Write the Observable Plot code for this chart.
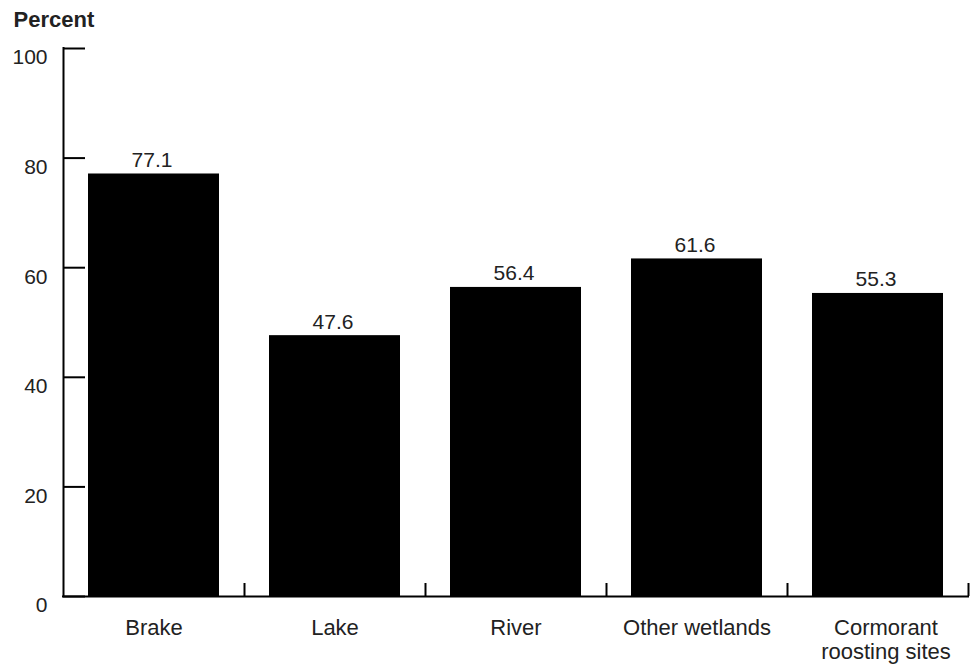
<!DOCTYPE html>
<html>
<head>
<meta charset="utf-8">
<script src="https://cdn.jsdelivr.net/npm/d3@7"></script>
<script src="https://cdn.jsdelivr.net/npm/@observablehq/plot@0.6"></script>
<style>
  html, body { margin: 0; padding: 0; background: #fff; }
  svg { font-family: "Liberation Sans", Arial, sans-serif; }
</style>
</head>
<body>
<div id="chart"></div>
<script>
const categories = ["Brake", "Lake", "River", "Other wetlands", "Cormorant\nroosting sites"];
const values = [77.1, 47.6, 56.4, 61.6, 55.3];
const yTicks = [0, 20, 40, 60, 80, 100];
const yTitle = "Percent";

const data = categories.map((c, i) => ({category: c, value: values[i]}));

const W = 975, H = 669;
const mL = 63, mR = 7, mT = 48, mB = 73;
const frameW = W - mL - mR, frameH = H - mT - mB;
const halfStep = frameW / categories.length / 2;
const ink = "#222";

const chart = Plot.plot({
  width: W,
  height: H,
  marginLeft: mL,
  marginRight: mR,
  marginTop: mT,
  marginBottom: mB,
  style: {fontFamily: "'Liberation Sans', Arial, sans-serif", background: "#fff"},
  x: {domain: categories, padding: 0, axis: null},
  y: {domain: [0, 100], axis: null},
  marks: [
    Plot.barY(data, {x: "category", y: "value", fill: "#000", insetLeft: 25, insetRight: 25}),
    Plot.text(data, {x: "category", y: "value", text: d => d.value.toFixed(1), lineAnchor: "bottom", dy: -7, dx: -2, fontSize: 21, fill: ink}),
    // y axis line
    Plot.ruleX([categories[0]], {dx: -halfStep, y1: 0, y2: 100, stroke: "#000", strokeWidth: 2, strokeLinecap: "square"}),
    // x axis line
    Plot.ruleY([0], {stroke: "#000", strokeWidth: 2, strokeLinecap: "square"}),
    // y ticks (inward)
    Plot.ruleY(yTicks, {y: d => d, insetRight: frameW - 22, stroke: "#000", strokeWidth: 2}),
    // x ticks at band boundaries (inward)
    Plot.ruleX(categories, {x: d => d, dx: halfStep, insetTop: frameH - 13, stroke: "#000", strokeWidth: 2}),
    // y tick labels
    Plot.text(yTicks, {y: d => d, text: d => String(d), frameAnchor: "left", textAnchor: "end", lineAnchor: "top", dx: -16, dy: 1, fontSize: 21, fill: ink}),
    // x category labels
    Plot.text(categories.slice(0, 4), {x: d => d, text: d => d, frameAnchor: "bottom", lineAnchor: "top", dy: 21, fontSize: 22, lineHeight: 1.1, fill: ink}),
    Plot.text(categories.slice(4), {x: d => d, text: d => d, frameAnchor: "bottom", lineAnchor: "top", dy: 21, dx: 8, fontSize: 22, lineHeight: 1.1, fill: ink}),
    // title
    Plot.text([yTitle], {text: d => d, frameAnchor: "top-left", textAnchor: "start", lineAnchor: "bottom", dx: -50, dy: -22, fontSize: 22, fontWeight: "bold", fill: ink})
  ]
});
document.getElementById("chart").appendChild(chart);
</script>
</body>
</html>
